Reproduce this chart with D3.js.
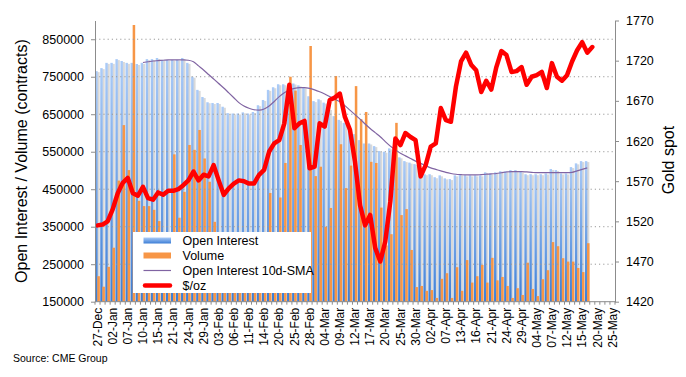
<!DOCTYPE html>
<html>
<head>
<meta charset="utf-8">
<script src="https://cdn.jsdelivr.net/npm/d3@7"></script>
<style>
	body { margin: 0; background: #fff; }
	svg { display: block; font-family: "Liberation Sans", Arial, Helvetica, sans-serif; }
</style>
</head>
<body>
<svg id="chart"></svg>
<script>
// trading days, 27-Dec to 25-May
const dates = [
	"27-Dec", "30-Dec", "31-Dec", "02-Jan", "03-Jan", "06-Jan", "07-Jan", "08-Jan", "09-Jan", "10-Jan",
	"13-Jan", "14-Jan", "15-Jan", "16-Jan", "17-Jan", "21-Jan", "22-Jan", "23-Jan", "24-Jan", "27-Jan",
	"28-Jan", "29-Jan", "30-Jan", "31-Jan", "03-Feb", "04-Feb", "05-Feb", "06-Feb", "07-Feb", "10-Feb",
	"11-Feb", "12-Feb", "13-Feb", "14-Feb", "18-Feb", "19-Feb", "20-Feb", "21-Feb", "24-Feb", "25-Feb",
	"26-Feb", "27-Feb", "28-Feb", "02-Mar", "03-Mar", "04-Mar", "05-Mar", "06-Mar", "09-Mar", "10-Mar",
	"11-Mar", "12-Mar", "13-Mar", "16-Mar", "17-Mar", "18-Mar", "19-Mar", "20-Mar", "23-Mar", "24-Mar",
	"25-Mar", "26-Mar", "27-Mar", "30-Mar", "31-Mar", "01-Apr", "02-Apr", "03-Apr", "06-Apr", "07-Apr",
	"08-Apr", "09-Apr", "13-Apr", "14-Apr", "15-Apr", "16-Apr", "17-Apr", "20-Apr", "21-Apr", "22-Apr",
	"23-Apr", "24-Apr", "27-Apr", "28-Apr", "29-Apr", "30-Apr", "01-May", "04-May", "05-May", "06-May",
	"07-May", "08-May", "11-May", "12-May", "13-May", "14-May", "15-May", "18-May", "19-May", "20-May",
	"21-May", "22-May", "25-May"
];

// contracts
const openInterest = [
	765000, 773000, 787000, 787000, 797000, 792000, 787000, 787000, 784000, 787000,
	797000, 797000, 800000, 795000, 795000, 795000, 795000, 800000, 787000, 750000,
	715000, 696000, 682000, 680000, 680000, 670000, 653000, 652000, 652000, 655000,
	652000, 656000, 674000, 688000, 715000, 722000, 730000, 730000, 730000, 732000,
	727000, 722000, 698000, 685000, 690000, 681000, 664000, 645000, 635000, 627000,
	614000, 597000, 581000, 572000, 572000, 565000, 552000, 550000, 559000, 545000,
	535000, 525000, 521000, 517000, 500000, 490000, 490000, 482000, 487000, 479000,
	477000, 487000, 490000, 487000, 487000, 487000, 487000, 495000, 492000, 495000,
	498000, 498000, 501000, 501000, 497000, 490000, 490000, 490000, 490000, 492000,
	504000, 501000, 492000, 492000, 509000, 519000, 525000, 525000
];

const volume = [
	218000, 190000, 243000, 294000, 473000, 621000, 501000, 888000, 419000, 405000,
	405000, 395000, 365000, 300000, 320000, 543000, 374000, 443000, 568000, 555000,
	608000, 532000, 470000, 363000, 300000, 280000, 290000, 310000, 300000, 290000,
	270000, 300000, 310000, 320000, 440000, 320000, 428000, 520000, 750000, 713000,
	568000, 330000, 832000, 485000, 510000, 350000, 400000, 752000, 570000, 453000,
	513000, 725000, 637000, 656000, 523000, 520000, 401000, 300000, 330000, 627000,
	381000, 397000, 288000, 189000, 192000, 179000, 181000, 160000, 211000, 226000,
	160000, 242000, 179000, 261000, 201000, 218000, 248000, 201000, 267000, 207000,
	216000, 192000, 160000, 186000, 168000, 254000, 184000, 165000, 210000, 234000,
	309000, 298000, 266000, 257000, 257000, 240000, 229000, 306000
];

// 10-day simple moving average of open interest, from 10-Jan
const oiSma10 = [
	null, null, null, null, null, null, null, null, null, 788000,
	790000, 792000, 793000, 794000, 795000, 795000, 795000, 795000, 794000, 790000,
	779000, 768000, 756000, 744000, 732000, 720000, 707000, 694000, 681000, 672000,
	666000, 662000, 661000, 664000, 672000, 684000, 697000, 707000, 715000, 719000,
	721000, 721000, 719000, 715000, 710000, 704000, 697000, 690000, 683000, 673000,
	661000, 649000, 637000, 624000, 612000, 601000, 590000, 577000, 565000, 555000,
	546000, 539000, 532000, 525000, 519000, 513000, 507000, 503000, 499000, 495000,
	492000, 490000, 489000, 488000, 488000, 488000, 489000, 490000, 491000, 492000,
	494000, 496000, 497000, 497000, 497000, 496000, 495000, 494000, 494000, 494000,
	494000, 494000, 494000, 494000, 495000, 499000, 503000, 507000
];

// $/oz
const goldSpot = [
	1515, 1516, 1520, 1535, 1555, 1568, 1574, 1555, 1552, 1563,
	1549, 1547, 1556, 1553, 1558, 1558, 1560, 1565, 1571, 1582,
	1571, 1578, 1576, 1590, 1571, 1553, 1561, 1567, 1571, 1570,
	1567, 1567, 1578, 1584, 1607, 1617, 1621, 1642, 1690, 1636,
	1642, 1645, 1586, 1588, 1642, 1638, 1671, 1674, 1679, 1650,
	1634, 1594, 1540, 1515, 1528, 1487, 1470, 1495, 1545, 1623,
	1615, 1630, 1625, 1621, 1576, 1590, 1613, 1617, 1661, 1646,
	1644, 1688, 1719, 1730, 1715, 1708, 1681, 1695, 1684, 1712,
	1732, 1727, 1706, 1707, 1712, 1690, 1700, 1702, 1706, 1686,
	1717, 1700, 1695, 1702, 1719, 1733, 1743, 1730, 1737
];

const leftTicks = [150000, 250000, 350000, 450000, 550000, 650000, 750000, 850000];
const rightTicks = [1420, 1470, 1520, 1570, 1620, 1670, 1720, 1770];
const labelDates = dates.filter((d, i) => i % 3 === 0);

const legendItems = ["Open Interest", "Volume", "Open Interest 10d-SMA", "$/oz"];

const W = 686, H = 377;
const margin = { top: 20.5, right: 71, bottom: 75.3, left: 95 };
const plotW = W - margin.left - margin.right;
const plotH = H - margin.top - margin.bottom;

const svg = d3.select("#chart")
	.attr("width", W)
	.attr("height", H);

const defs = svg.append("defs");
const grad = defs.append("linearGradient")
	.attr("id", "oiGrad")
	.attr("x1", 0).attr("y1", 0).attr("x2", 0).attr("y2", 1);
grad.append("stop").attr("offset", "0%").attr("stop-color", "#abcbf7");
grad.append("stop").attr("offset", "100%").attr("stop-color", "#3c7ed6");

const g = svg.append("g")
	.attr("transform", `translate(${margin.left},${margin.top})`);

const x = d3.scaleBand()
	.domain(dates)
	.range([0, plotW])
	.padding(0);

const yL = d3.scaleLinear()
	.domain([150000, 900000])
	.range([plotH, 0]);

const yR = d3.scaleLinear()
	.domain([1420, 1770])
	.range([plotH, 0]);

const bw = x.bandwidth();

const oiData = openInterest.map((v, i) => ({ date: dates[i], v }));
const volData = volume.map((v, i) => ({ date: dates[i], v }));

// bar shadows
g.append("g")
	.selectAll("rect")
	.data(oiData)
	.enter().append("rect")
	.attr("x", d => x(d.date) + bw * 0.42)
	.attr("y", d => yL(d.v) + 1)
	.attr("width", bw * 0.5)
	.attr("height", d => plotH - yL(d.v) - 1)
	.attr("fill", "#d9d9d9");

g.append("g")
	.selectAll("rect")
	.data(oiData)
	.enter().append("rect")
	.attr("x", d => x(d.date) + bw * 0.04)
	.attr("y", d => yL(d.v))
	.attr("width", bw * 0.48)
	.attr("height", d => plotH - yL(d.v))
	.attr("fill", "url(#oiGrad)");

g.append("g")
	.selectAll("rect")
	.data(volData)
	.enter().append("rect")
	.attr("x", d => x(d.date) + bw * 0.46)
	.attr("y", d => yL(d.v))
	.attr("width", bw * 0.5)
	.attr("height", d => plotH - yL(d.v))
	.attr("fill", "#f79646");

// dotted grid
g.append("g")
	.selectAll("line")
	.data(leftTicks.slice(1))
	.enter().append("line")
	.attr("x1", 0)
	.attr("x2", plotW)
	.attr("y1", d => yL(d))
	.attr("y2", d => yL(d))
	.attr("stroke", "#9a9a9a")
	.attr("stroke-width", 1)
	.attr("stroke-dasharray", "1.2,3");

const smaLine = d3.line()
	.defined(d => d.v !== null)
	.x(d => x(d.date) + bw / 2)
	.y(d => yL(d.v))
	.curve(d3.curveMonotoneX);

g.append("path")
	.datum(oiSma10.map((v, i) => ({ date: dates[i], v })))
	.attr("fill", "none")
	.attr("stroke", "#8064a2")
	.attr("stroke-width", 1.2)
	.attr("d", smaLine);

const goldLine = d3.line()
	.x(d => x(d.date) + bw / 2)
	.y(d => yR(d.v));

g.append("path")
	.datum(goldSpot.map((v, i) => ({ date: dates[i], v })))
	.attr("fill", "none")
	.attr("stroke", "#ff0000")
	.attr("stroke-width", 4.5)
	.attr("stroke-linejoin", "round")
	.attr("stroke-linecap", "round")
	.attr("d", goldLine);

// axes
const axisColor = "#8c8c8c";

const leftAxis = g.append("g")
	.call(d3.axisLeft(yL).tickValues(leftTicks).tickFormat(d3.format("d")).tickSize(4).tickSizeOuter(0).tickPadding(7));
leftAxis.select(".domain").attr("stroke", axisColor);
leftAxis.selectAll(".tick line").attr("stroke", axisColor);
leftAxis.selectAll("text").attr("font-size", "12.5px").attr("fill", "#000");

const rightAxis = g.append("g")
	.attr("transform", `translate(${plotW},0)`)
	.call(d3.axisRight(yR).tickValues(rightTicks).tickFormat(d3.format("d")).tickSize(4).tickSizeOuter(0).tickPadding(7));
rightAxis.select(".domain").attr("stroke", axisColor);
rightAxis.selectAll(".tick line").attr("stroke", axisColor);
rightAxis.selectAll("text").attr("font-size", "12.5px").attr("fill", "#000");

// x axis: small tick at each day boundary, label every third day
const bottom = g.append("g")
	.attr("transform", `translate(0,${plotH})`);

bottom.append("line")
	.attr("x1", 0).attr("x2", plotW)
	.attr("stroke", axisColor);

bottom.selectAll(".minor")
	.data(dates.concat([null]))
	.enter().append("line")
	.attr("class", "minor")
	.attr("x1", (d, i) => i * bw)
	.attr("x2", (d, i) => i * bw)
	.attr("y1", 0).attr("y2", 3)
	.attr("stroke", axisColor);

bottom.selectAll(".lbl")
	.data(labelDates)
	.enter().append("text")
	.attr("class", "lbl")
	.attr("transform", d => `translate(${x(d) + bw / 2},6) rotate(-90)`)
	.attr("text-anchor", "end")
	.attr("dy", "0.35em")
	.attr("font-size", "12px")
	.text(d => d);

svg.append("text")
	.attr("transform", `translate(21,${margin.top + plotH / 2}) rotate(-90)`)
	.attr("text-anchor", "middle")
	.attr("dy", "0.35em")
	.attr("font-size", "16px")
	.text("Open Interest / Volume (contracts)");

svg.append("text")
	.attr("transform", `translate(668,${margin.top + plotH / 2 - 1}) rotate(-90)`)
	.attr("text-anchor", "middle")
	.attr("dy", "0.35em")
	.attr("font-size", "16px")
	.text("Gold spot");

svg.append("text")
	.attr("x", 13)
	.attr("y", 362)
	.attr("font-size", "10.5px")
	.text("Source: CME Group");

// legend
const legend = svg.append("g")
	.attr("transform", "translate(133,232)");

legend.append("rect")
	.attr("width", 178)
	.attr("height", 61)
	.attr("fill", "#fff");

const items = legend.selectAll(".item")
	.data(legendItems)
	.enter().append("g")
	.attr("class", "item")
	.attr("transform", (d, i) => `translate(0,${8.5 + i * 15})`);

items.filter((d, i) => i === 0).append("rect")
	.attr("x", 10.5).attr("y", -3).attr("width", 27.5).attr("height", 6)
	.attr("fill", "url(#oiGrad)");

items.filter((d, i) => i === 1).append("rect")
	.attr("x", 10.5).attr("y", -3).attr("width", 27.5).attr("height", 6)
	.attr("fill", "#f79646");

items.filter((d, i) => i === 2).append("line")
	.attr("x1", 10.5).attr("x2", 38)
	.attr("stroke", "#8064a2").attr("stroke-width", 1.2);

items.filter((d, i) => i === 3).append("line")
	.attr("x1", 12).attr("x2", 37)
	.attr("stroke", "#ff0000").attr("stroke-width", 4.5)
	.attr("stroke-linecap", "round");

items.append("text")
	.attr("x", 49.5)
	.attr("dy", "0.35em")
	.attr("font-size", "12.5px")
	.text(d => d);
</script>
</body>
</html>
